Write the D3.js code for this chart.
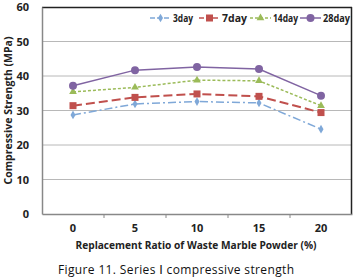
<!DOCTYPE html>
<html>
<head>
<meta charset="utf-8">
<script src="https://cdn.jsdelivr.net/npm/d3@7"></script>
<style>
  body { margin: 0; background: #fff; }
  text { font-family: "Open Sans", "DejaVu Sans", sans-serif; }
</style>
</head>
<body>
<div id="myChart"></div>
<script>
// data
var ratios = ["0", "5", "10", "15", "20"];
var yTicks = [0, 10, 20, 30, 40, 50, 60];
var day3 = [28.7, 31.9, 32.6, 32.2, 24.6];
var day7 = [31.4, 33.8, 34.8, 34.1, 29.4];
var day14 = [35.4, 36.7, 38.8, 38.6, 31.4];
var day28 = [37.2, 41.7, 42.6, 42.0, 34.3];

var series = [
  {name: "3day", values: day3, color: "#7fa8d8", dash: "8,3,2,3", marker: "diamond"},
  {name: "7day", values: day7, color: "#c0504d", dash: "9,4", marker: "square"},
  {name: "14day", values: day14, color: "#9bbb59", dash: "3,2", marker: "triangle"},
  {name: "28day", values: day28, color: "#8064a2", dash: null, marker: "circle"}
];

var W = 353, H = 280;
var margin = {top: 7, right: 1, bottom: 66, left: 42},
    width = W - margin.left - margin.right,
    height = H - margin.top - margin.bottom;

var root = d3.select("#myChart").append("svg")
    .attr("width", W)
    .attr("height", H);

var svg = root.append("g")
    .attr("transform", "translate(" + margin.left + "," + margin.top + ")");

var x = d3.scaleBand().domain(ratios).range([0, width]);
var y = d3.scaleLinear().domain([0, 60]).range([height, 0]);

// gridlines
svg.selectAll("grid")
    .data(yTicks.filter(function(d) { return d > 0 && d < 60; }))
    .enter()
    .append("line")
    .attr("x1", 0).attr("x2", width)
    .attr("y1", function(d) { return y(d); })
    .attr("y2", function(d) { return y(d); })
    .attr("stroke", "#b8b8b8")
    .attr("stroke-width", 1);

// frame top / right
svg.append("line").attr("x1", 0).attr("x2", width).attr("y1", 0.5).attr("y2", 0.5)
    .attr("stroke", "#222").attr("stroke-width", 1.5);
svg.append("line").attr("x1", width - 0.5).attr("x2", width - 0.5).attr("y1", 0).attr("y2", height)
    .attr("stroke", "#222").attr("stroke-width", 1.5);

// y axis
var yAxis = svg.append("g")
    .call(d3.axisLeft(y).tickValues(yTicks).tickSize(0).tickPadding(13));
yAxis.select(".domain").attr("stroke", "#888").attr("stroke-width", 1.5);
yAxis.selectAll("text")
    .attr("font-size", "11px").attr("font-weight", "bold").attr("fill", "#222");

// x axis
var xAxis = svg.append("g")
    .attr("transform", "translate(0," + height + ")")
    .call(d3.axisBottom(x).tickSize(0).tickPadding(10));
xAxis.select(".domain").attr("stroke", "#888").attr("stroke-width", 1.5);
xAxis.selectAll("text")
    .attr("font-size", "11px").attr("font-weight", "bold").attr("fill", "#222");
// tick marks at category boundaries
svg.selectAll("xtick")
    .data(ratios.slice(1))
    .enter()
    .append("line")
    .attr("x1", function(d) { return x(d); })
    .attr("x2", function(d) { return x(d); })
    .attr("y1", height).attr("y2", height + 4)
    .attr("stroke", "#888");

var cx = function(i) { return x(ratios[i]) + x.bandwidth() / 2; };

var line = d3.line()
    .x(function(d, i) { return cx(i); })
    .y(function(d) { return y(d); });

function drawMarker(g, type, px, py, color) {
  if (type === "circle") {
    g.append("circle").attr("cx", px).attr("cy", py).attr("r", 4).attr("fill", color);
  } else if (type === "square") {
    g.append("rect").attr("x", px - 3.5).attr("y", py - 3.5).attr("width", 7).attr("height", 7).attr("fill", color);
  } else if (type === "triangle") {
    g.append("path").attr("d", d3.symbol().type(d3.symbolTriangle).size(26)())
      .attr("transform", "translate(" + px + "," + py + ")").attr("fill", color);
  } else {
    g.append("path").attr("d", d3.symbol().type(d3.symbolDiamond).size(22)())
      .attr("transform", "translate(" + px + "," + py + ")").attr("fill", color);
  }
}

series.forEach(function(s) {
  svg.append("path")
    .datum(s.values)
    .attr("d", line)
    .attr("fill", "none")
    .attr("stroke", s.color)
    .attr("stroke-width", s.name === "7day" ? 2 : 1.5)
    .attr("stroke-dasharray", s.dash);
  var g = svg.append("g");
  s.values.forEach(function(v, i) {
    drawMarker(g, s.marker, cx(i), y(v), s.color);
  });
});

// legend
var legendX = [108, 157, 208, 258];
var legendW = [20, 25, 25, 27];
var legend = svg.append("g").attr("transform", "translate(0,11)");
series.forEach(function(s, i) {
  var lx = legendX[i];
  legend.append("line")
    .attr("x1", lx).attr("x2", lx + 21).attr("y1", 0).attr("y2", 0)
    .attr("stroke", s.color).attr("stroke-width", 1.5)
    .attr("stroke-dasharray", s.dash ? (s.name === "14day" ? "3,2" : "5,2") : null);
  drawMarker(legend, s.marker, lx + 10.5, 0, s.color);
  legend.append("text")
    .attr("x", lx + 23).attr("y", 0)
    .attr("dy", "0.35em")
    .attr("font-size", "10px").attr("font-weight", "bold").attr("fill", "#222")
    .attr("textLength", legendW[i])
    .attr("lengthAdjust", "spacingAndGlyphs")
    .text(s.name);
});

// axis titles
root.append("text")
    .attr("transform", "translate(12," + (margin.top + height / 2) + ") rotate(-90)")
    .attr("text-anchor", "middle")
    .attr("font-size", "10.5px").attr("font-weight", "bold").attr("fill", "#222")
    .text("Compressive Strength (MPa)");

root.append("text")
    .attr("x", 196).attr("y", 249)
    .attr("text-anchor", "middle")
    .attr("font-size", "10.5px").attr("font-weight", "bold").attr("fill", "#222")
    .attr("textLength", 241)
    .attr("lengthAdjust", "spacingAndGlyphs")
    .text("Replacement Ratio of Waste Marble Powder (%)");

// caption
root.append("text")
    .attr("x", 176).attr("y", 274)
    .attr("text-anchor", "middle")
    .attr("font-family", "'Noto Sans CJK KR', sans-serif")
    .attr("font-size", "12px").attr("fill", "#111")
    .attr("textLength", 236)
    .text("Figure 11. Series Ⅰ compressive strength");
</script>
</body>
</html>
